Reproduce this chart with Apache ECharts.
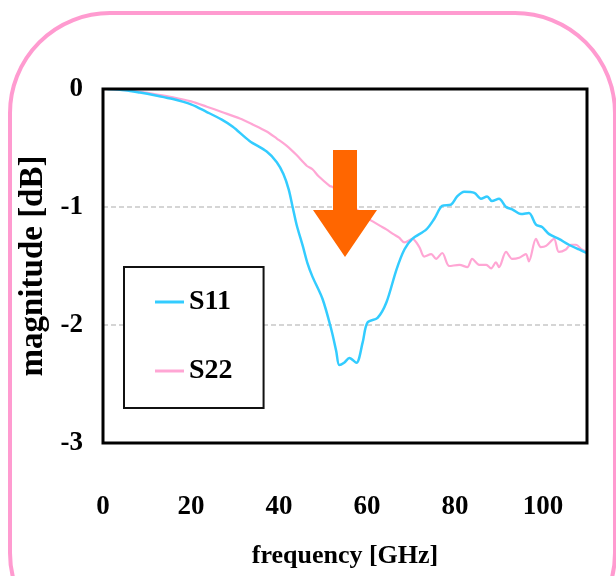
<!DOCTYPE html>
<html>
<head>
<meta charset="utf-8">
<script src="https://cdn.jsdelivr.net/npm/echarts@6/dist/echarts.min.js"></script>
<style>
html,body{margin:0;padding:0;background:#fff;}
#c{width:616px;height:576px;}
</style>
</head>
<body>
<div id="c"></div>
<script>
var s11Freq = [1,5,8.4,12,15.9,20,23.6,27,29.5,33.3,37.2,39.5,41.0,42.2,43.1,44.0,45.4,46.5,47.6,49.9,51.9,53.0,53.7,54.8,56.0,57.6,59.0,60.1,62.4,64.4,66.7,68.5,70.3,73.5,75.3,77.1,79.1,80.5,82.1,84.4,85.9,87.3,88.4,90.0,91.6,93.0,95.0,96.8,98.4,99.8,101.4,103.6,105.9,108.2,110];
var s11Mag  = [0,-0.01,-0.03,-0.055,-0.085,-0.13,-0.195,-0.26,-0.32,-0.44,-0.53,-0.62,-0.72,-0.85,-1.0,-1.15,-1.33,-1.48,-1.59,-1.78,-2.04,-2.22,-2.34,-2.32,-2.28,-2.32,-2.15,-1.98,-1.94,-1.81,-1.53,-1.36,-1.27,-1.19,-1.10,-0.99,-0.98,-0.91,-0.87,-0.88,-0.93,-0.91,-0.95,-0.93,-1.00,-1.02,-1.06,-1.05,-1.15,-1.17,-1.23,-1.27,-1.32,-1.36,-1.39];
var s22Freq = [1,5,8.4,12,15.9,20,23.6,27,31.1,34,37.2,39.5,41.7,44,46.3,47.6,49,51.5,52.2,55,57.6,59.5,61.2,63,64.4,66,67.3,68.5,70.3,71.9,73.0,74.6,75.7,77.1,78.7,81.0,82.8,83.9,85.5,87.1,88.2,89.3,90.0,91.6,93.0,94.6,96.1,96.8,98.4,99.5,100.7,102.5,103.6,105.2,106.3,107.5,108.8,110];
var s22Mag  = [0,-0.01,-0.025,-0.045,-0.07,-0.105,-0.15,-0.195,-0.25,-0.30,-0.36,-0.42,-0.48,-0.56,-0.65,-0.68,-0.74,-0.82,-0.83,-0.93,-1.02,-1.08,-1.12,-1.16,-1.19,-1.23,-1.26,-1.30,-1.27,-1.34,-1.42,-1.40,-1.44,-1.39,-1.50,-1.49,-1.51,-1.44,-1.49,-1.49,-1.52,-1.47,-1.51,-1.38,-1.44,-1.43,-1.40,-1.46,-1.27,-1.34,-1.33,-1.27,-1.38,-1.36,-1.32,-1.32,-1.36,-1.38];
var xTicks = [0,20,40,60,80,100];
var yTicks = [0,-1,-2,-3];
var seriesNames = ['S11','S22'];

function pairs(xs, ys){ return xs.map(function(x,i){ return [x, ys[i]]; }); }

var FONT = 'Liberation Serif';
var chart = echarts.init(document.getElementById('c'), null, {renderer:'canvas'});
chart.setOption({
  backgroundColor:'#fff',
  animation:false,
  grid:{left:103, top:89, right:29, bottom:133, show:true, borderColor:'#000', borderWidth:3, backgroundColor:'transparent', z:3},
  xAxis:{
    type:'value', min:0, max:110, interval:20,
    axisLine:{show:false}, axisTick:{show:false}, splitLine:{show:false},
    axisLabel:{showMaxLabel:false, margin:51, fontFamily:FONT, fontWeight:'bold', fontSize:27, color:'#000',
      formatter:function(v){ return xTicks.indexOf(v) >= 0 ? String(v) : ''; }},
    name:'frequency [GHz]', nameLocation:'middle', nameGap:100,
    nameTextStyle:{fontFamily:FONT, fontWeight:'bold', fontSize:26, color:'#000'}
  },
  yAxis:{
    type:'value', min:-3, max:0, interval:1,
    axisLine:{show:false}, axisTick:{show:false},
    splitLine:{show:true, lineStyle:{color:'#c8c8c8', type:[5,3], width:1.5}},
    axisLabel:{margin:20, fontFamily:FONT, fontWeight:'bold', fontSize:27, color:'#000',
      formatter:function(v){ return yTicks.indexOf(v) >= 0 ? String(v) : ''; }},
    name:'magnitude [dB]', nameLocation:'middle', nameGap:51, nameRotate:90,
    nameTextStyle:{fontFamily:FONT, fontWeight:'bold', fontSize:33, color:'#000'}
  },
  legend:{
    orient:'vertical', left:124, top:267,
    backgroundColor:'#fff', borderColor:'#111', borderWidth:2,
    padding:[21,31,23,31], itemGap:41, itemWidth:29, itemHeight:3,
    textStyle:{fontFamily:FONT, fontWeight:'bold', fontSize:28, color:'#000'},
    data:[{name:seriesNames[0], icon:'rect', itemStyle:{color:'#33ccff'}},{name:seriesNames[1], icon:'rect', itemStyle:{color:'#ffa6d4'}}],
    z:5
  },
  series:[
    {name:seriesNames[0], type:'line', symbol:'none', smooth:0.3, data:pairs(s11Freq, s11Mag),
     lineStyle:{color:'#33ccff', width:2.5}, itemStyle:{color:'#33ccff'}, z:2},
    {name:seriesNames[1], type:'line', symbol:'none', smooth:0.3, data:pairs(s22Freq, s22Mag),
     lineStyle:{color:'#ffa6d4', width:2.2}, itemStyle:{color:'#ffa6d4'}, z:1}
  ],
  graphic:[
    {type:'rect', z:-1, shape:{x:10, y:13, width:605, height:640, r:100},
     style:{fill:'none', stroke:'#ff9bd0', lineWidth:4}},
    {type:'polygon', z:10, shape:{points:[[333,150],[357,150],[357,210],[377,210],[345,257],[313,210],[333,210]]},
     style:{fill:'#ff6600'}}
  ]
});
</script>
</body>
</html>
